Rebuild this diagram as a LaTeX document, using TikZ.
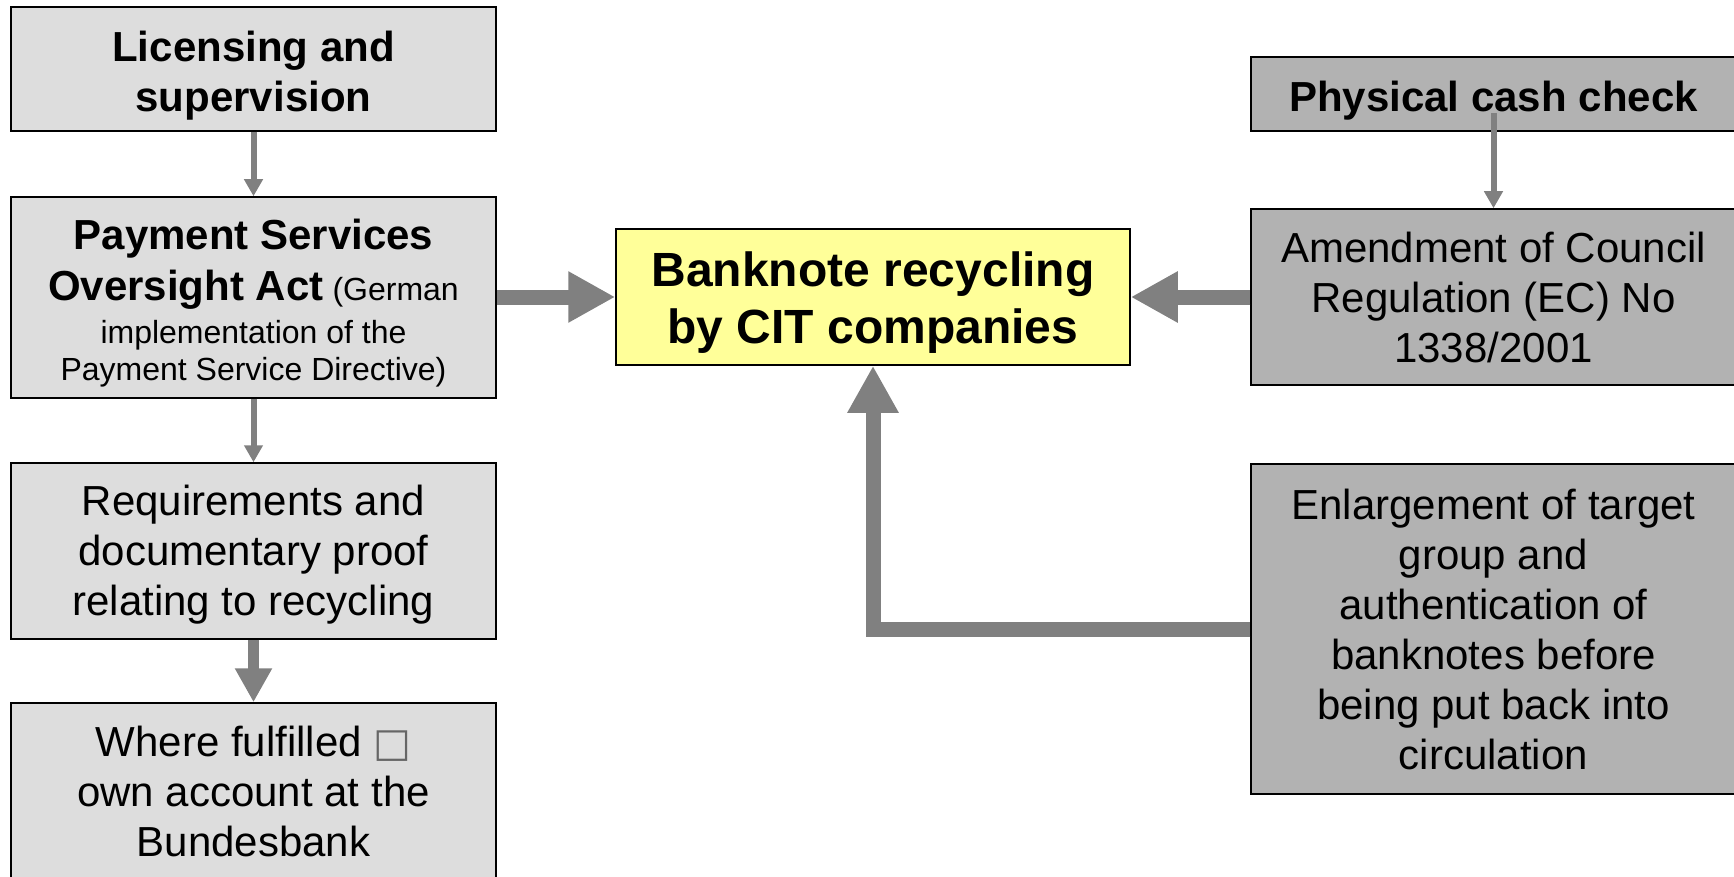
\documentclass[tikz,border=0pt]{standalone}
\usepackage{fontspec}
\setmainfont{Liberation Sans}
\newfontfamily\symfont{DejaVu Sans}
\usetikzlibrary{arrows.meta}
\definecolor{lgray}{HTML}{DDDDDD}
\definecolor{dgray}{HTML}{B2B2B2}
\definecolor{yel}{HTML}{FFFF99}
\definecolor{arr}{HTML}{808080}
\newcommand\tightlines{\lineskiplimit-100pt\relax}
\newcommand\fbig{\fontsize{42}{50}\selectfont\tightlines}
\newcommand\fsmall{\fontsize{32}{37}\selectfont\tightlines}
\newcommand\fcen{\fontsize{48}{57}\selectfont\tightlines\bfseries}
\newcommand\lift[1]{\rule{0pt}{#1}}
\begin{document}
\begin{tikzpicture}[x=1pt,y=-1pt,
  box/.style={draw=black, line width=1.5pt, minimum width=485pt, inner sep=0pt, align=center, font=\fbig},
  boxbf/.style={box, font=\fbig\bfseries},
  lbox/.style={fill=lgray},
  rbox/.style={fill=dgray},
  centerbox/.style={draw=black, line width=1.5pt, fill=yel, minimum width=514pt, minimum height=136pt,
    inner sep=0pt, align=center, font=\fcen},
  thinarrow/.style={draw=arr, line width=6pt, -{Triangle[width=18pt,length=17pt]}},
  midarrow/.style={draw=arr, line width=11pt, -{Triangle[width=35pt,length=34pt]}},
  thickarrow/.style={draw=arr, line width=15pt, line join=miter, -{Triangle[width=48pt,length=47pt]}},
]
\useasboundingbox (0,0) rectangle (1734,877);
\clip (0,0) rectangle (1734,877);

% left column
\node[boxbf, lbox, minimum height=124pt] (b1) at (253.5,69) {\lift{43pt}Licensing and\\supervision};
\node[box, lbox, minimum height=201pt, font=\fsmall] (b2) at (253.5,297.5)
  {\lift{41pt}{\fbig\bfseries Payment Services}\\[14pt]{\fbig\bfseries Oversight Act} (German\\[6pt]implementation of the\\Payment Service Directive)};
\node[box, lbox, minimum height=176pt] (b3) at (253.5,551) {\lift{37pt}Requirements and\\documentary proof\\relating to recycling};
\node[box, lbox, minimum height=177pt] (b4) at (253.5,791.5) {Where fulfilled {\symfont\fontsize{40}{46}\selectfont\color{black!60}□}\\own account at the\\Bundesbank};

% centre
\node[centerbox] (c) at (873,297) {\lift{45pt}Banknote recycling\\by CIT companies};

% right column
\node[boxbf, rbox, minimum height=74pt] (r1) at (1493.5,94) {\lift{43pt}Physical cash check};
\node[box, rbox, minimum height=176pt] (r2) at (1493.5,297) {Amendment of Council\\Regulation (EC) No\\1338/2001};
\node[box, rbox, minimum height=330pt] (r3) at (1493.5,629) {Enlargement of target\\group and\\authentication of\\banknotes before\\being put back into\\circulation};
\coordinate (r1s) at (1493.5,113);

% connectors
\draw[thinarrow] (b1.south) -- (b2.north);
\draw[thinarrow] (b2.south) -- (b3.north);
\draw[midarrow] (b3.south) -- (b4.north);
\draw[thickarrow] (b2.east |- c.west) -- (c.west);
\draw[thickarrow] (r2.west) -- (c.east);
\draw[thickarrow] (r3.west) -| (c.south);
\draw[thinarrow] (r1s) -- (r2.north);
\end{tikzpicture}
\end{document}
